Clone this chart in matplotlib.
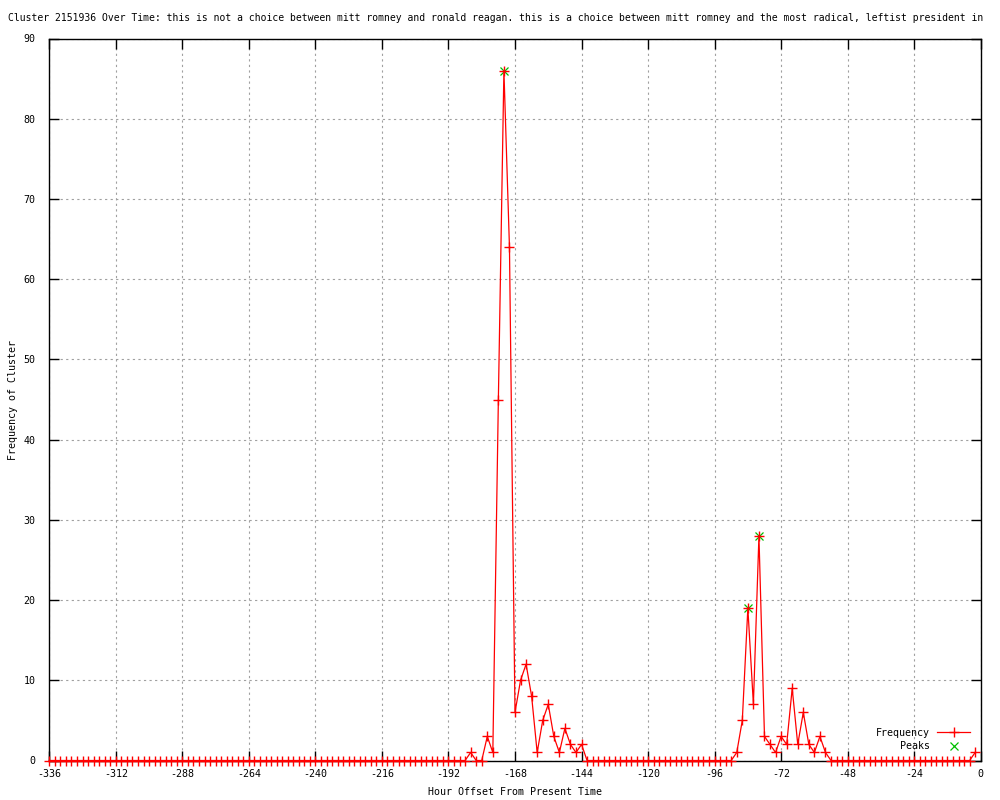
import numpy as np
import matplotlib
matplotlib.use("Agg")
import matplotlib.pyplot as plt

plt.rcParams['axes.unicode_minus'] = False
plt.rcParams['font.family'] = ['DejaVu Sans Mono']

# Data: hour offsets every 2 hours from -336 to -2
hours = list(range(-336, 0, 2))
nonzero = {
    -184: 1, -178: 3, -176: 1, -174: 45, -172: 86, -170: 64, -168: 6,
    -166: 10, -164: 12, -162: 8, -160: 1, -158: 5, -156: 7, -154: 3,
    -152: 1, -150: 4, -148: 2, -146: 1, -144: 2,
    -88: 1, -86: 5, -84: 19, -82: 7, -80: 28, -78: 3, -76: 2, -74: 1,
    -72: 3, -70: 2, -68: 9, -66: 2, -64: 6, -62: 2, -60: 1, -58: 3,
    -56: 1, -2: 1,
}
frequency = [nonzero.get(h, 0) for h in hours]
peak_hours = [-172, -84, -80]
peak_values = [86, 19, 28]

x_ticks = list(range(-336, 1, 24))
y_ticks = list(range(0, 91, 10))

title = ("Cluster 2151936 Over Time: this is not a choice between mitt romney and "
         "ronald reagan. this is a choice between mitt romney and the most radical, "
         "leftist president in")

fig = plt.figure(figsize=(10, 8), dpi=100)
ax = fig.add_axes([0.0493, 1 - 760.5 / 800, 0.9314, (760.5 - 38.5) / 800])

fs = 7.2
ax.plot(peak_hours, peak_values, linestyle='none', marker='x', color='#00c000',
        markersize=6, markeredgewidth=0.9, zorder=2)
ax.plot(hours, frequency, color='red', linewidth=0.9, marker='+',
        markersize=7, markeredgewidth=1.0, zorder=3, clip_on=False)

ax.set_xlim(-336, 0)
ax.set_ylim(0, 90)
ax.set_xticks(x_ticks)
ax.set_yticks(y_ticks)
ax.set_xticklabels([str(t) for t in x_ticks], fontsize=fs)
ax.set_yticklabels([str(t) for t in y_ticks], fontsize=fs)
ax.tick_params(direction='in', length=7, width=1, top=True, right=True,
               colors='black')
ax.tick_params(axis='x', pad=6)
ax.tick_params(axis='y', pad=10)
ax.grid(True, color='#a0a0a0', linestyle=(0, (2, 3)), linewidth=0.8)
for s in ax.spines.values():
    s.set_linewidth(1.0)
    s.set_color('black')

ax.set_xlabel("Hour Offset From Present Time", fontsize=fs)
ax.set_ylabel("Frequency of Cluster", fontsize=fs)
ax.xaxis.set_label_coords((515 - 49.3) / 931.4, (760.5 - 787) / 722)
ax.yaxis.set_label_coords((18 - 49.3) / 931.4, (760.5 - 400) / 722)

fig.text(0.008, 1 - 18 / 800, title, fontsize=7.05, va='center', ha='left')

# Legend (manual, gnuplot style)
tr = fig.transFigure
fig.text(930 / 1000, 1 - 733 / 800, "Frequency", fontsize=fs, ha='right', va='center')
fig.text(930 / 1000, 1 - 746 / 800, "Peaks", fontsize=fs, ha='right', va='center')
fig.add_artist(plt.Line2D([937 / 1000, 970 / 1000], [1 - 732 / 800] * 2,
                          transform=tr, color='red', linewidth=0.9))
fig.add_artist(plt.Line2D([953.5 / 1000], [1 - 732 / 800], transform=tr,
                          color='red', marker='+', markersize=7,
                          markeredgewidth=1.0, linestyle='none'))
fig.add_artist(plt.Line2D([953.5 / 1000], [1 - 745.5 / 800], transform=tr,
                          color='#00c000', marker='x', markersize=6,
                          markeredgewidth=0.9, linestyle='none'))

fig.savefig("out.png", dpi=100)
